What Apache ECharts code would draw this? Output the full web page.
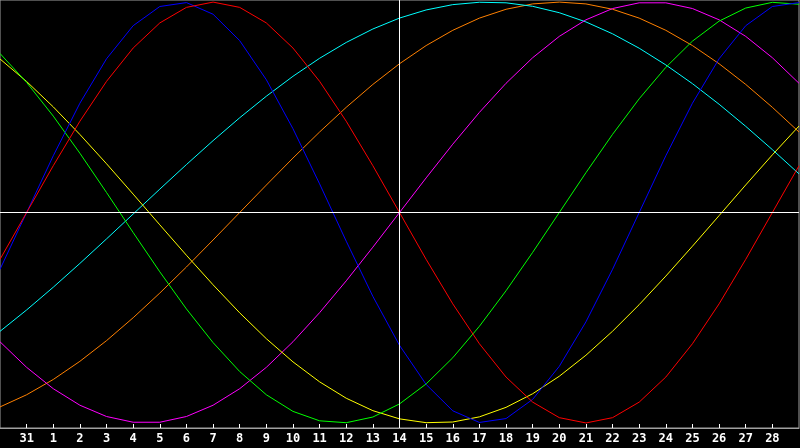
<!DOCTYPE html>
<html>
<head>
<meta charset="utf-8">
<script src="https://cdn.jsdelivr.net/npm/echarts@6/dist/echarts.min.js"></script>
<style>
html,body{margin:0;padding:0;background:#000;}
#c{width:800px;height:448px;}
</style>
</head>
<body>
<div id="c"></div>
<script>
var dayLabels = ['30','31','1','2','3','4','5','6','7','8','9','10','11','12','13','14','15','16','17','18','19','20','21','22','23','24','25','26','27','28','1'];

var redValues = [-0.2225,0,0.2225,0.4339,0.6235,0.7818,0.9010,0.9749,1,0.9749,0.9010,0.7818,0.6235,0.4339,0.2225,0,-0.2225,-0.4339,-0.6235,-0.7818,-0.9010,-0.9749,-1,-0.9749,-0.9010,-0.7818,-0.6235,-0.4339,-0.2225,0,0.2225];
var blueValues = [-0.2698,0,0.2698,0.5196,0.7308,0.8879,0.9791,0.9977,0.9423,0.8170,0.6311,0.3984,0.1362,-0.1362,-0.3984,-0.6311,-0.8170,-0.9423,-0.9977,-0.9791,-0.8879,-0.7308,-0.5196,-0.2698,0,0.2698,0.5196,0.7308,0.8879,0.9791,0.9977];
var greenValues = [0.7557,0.6182,0.4582,0.2817,0.0951,-0.0951,-0.2817,-0.4582,-0.6182,-0.7557,-0.8660,-0.9450,-0.9898,-0.9989,-0.9718,-0.9096,-0.8146,-0.6901,-0.5406,-0.3717,-0.1893,0,0.1893,0.3717,0.5406,0.6901,0.8146,0.9096,0.9718,0.9989,0.9898];
var yellowValues = [0.7298,0.6226,0.5021,0.3709,0.2318,0.0875,-0.0584,-0.2031,-0.3435,-0.4767,-0.5996,-0.7097,-0.8046,-0.8825,-0.9416,-0.9806,-0.9987,-0.9955,-0.9711,-0.9259,-0.8612,-0.7780,-0.6782,-0.5640,-0.4377,-0.3020,-0.1600,-0.0146,0.1311,0.2741,0.4112];
var cyanValues = [-0.5646,-0.4630,-0.3549,-0.2418,-0.1253,-0.0071,0.1112,0.2279,0.3415,0.4503,0.5527,0.6474,0.7330,0.8083,0.8722,0.9241,0.9627,0.9880,0.9993,0.9967,0.9800,0.9496,0.9058,0.8493,0.7809,0.7015,0.6124,0.5146,0.4096,0.2989,0.1838];
var orangeValues = [-0.9239,-0.8660,-0.7934,-0.7071,-0.6088,-0.5,-0.3827,-0.2588,-0.1305,0,0.1305,0.2588,0.3827,0.5,0.6088,0.7071,0.7934,0.8660,0.9239,0.9659,0.9914,1,0.9914,0.9659,0.9239,0.8660,0.7934,0.7071,0.6088,0.5,0.3827];
var magentaValues = [-0.6142,-0.7357,-0.8372,-0.9158,-0.9694,-0.9966,-0.9966,-0.9694,-0.9158,-0.8372,-0.7357,-0.6142,-0.4759,-0.3247,-0.1646,0,0.1646,0.3247,0.4759,0.6142,0.7357,0.8372,0.9158,0.9694,0.9966,0.9966,0.9694,0.9158,0.8372,0.7357,0.6142];

var todayIndex = 15;

var chart = echarts.init(document.getElementById('c'), null, {renderer:'canvas'});

function line(name, color, data, extra) {
  var s = {
    name: name, type: 'line', data: data, symbol: 'none', smooth: false,
    lineStyle: {color: color, width: 1}, itemStyle: {color: color},
    silent: true, animation: false
  };
  if (extra) { for (var k in extra) s[k] = extra[k]; }
  return s;
}

chart.setOption({
  backgroundColor: '#000',
  animation: false,
  grid: {left: 0, right: 1, top: 0, bottom: 20, show: true, borderColor: '#a0a0a0', borderWidth: 1, backgroundColor: '#000'},
  xAxis: {
    type: 'category', data: dayLabels, boundaryGap: false,
    axisLine: {onZero: false, lineStyle: {color: '#a0a0a0', width: 1}},
    axisTick: {inside: true, length: 4, lineStyle: {color: '#ffffff'}, interval: function(i){ return i > 0 && i < dayLabels.length - 1; }},
    axisLabel: {color: '#ffffff', fontFamily: 'DejaVu Sans Mono', fontWeight: 'bold', fontSize: 12, margin: 5,
      interval: function(i){ return i > 0 && i < dayLabels.length - 1; }},
    splitLine: {show: false}
  },
  yAxis: {type: 'value', min: -1.024, max: 1.01, show: false, splitLine: {show: false}},
  series: [
    line('white', '#ffffff', [], {markLine: {silent: true, symbol: 'none', label: {show: false},
      lineStyle: {color: '#ffffff', width: 1, type: 'solid'},
      data: [{yAxis: 0}, {xAxis: todayIndex}], animation: false}}),
    line('orange', '#ff8000', orangeValues),
    line('cyan', '#00ffff', cyanValues),
    line('magenta', '#ff00ff', magentaValues),
    line('yellow', '#ffff00', yellowValues),
    line('green', '#00ff00', greenValues),
    line('blue', '#0000ff', blueValues),
    line('red', '#ff0000', redValues)
  ]
});
</script>
</body>
</html>
